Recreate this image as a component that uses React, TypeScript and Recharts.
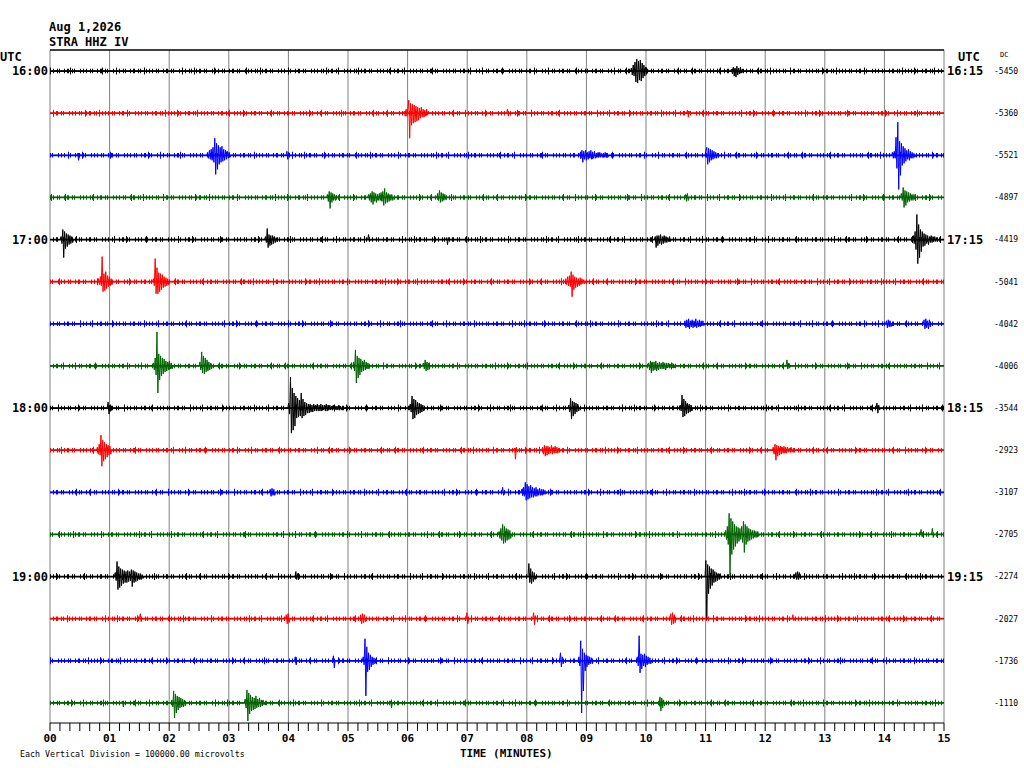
import React from 'react';
import { LineChart, Line, XAxis, YAxis, ReferenceLine } from 'recharts';

// ---------- data ----------
const MINUTES = [0, 1, 2, 3, 4, 5, 6, 7, 8, 9, 10, 11, 12, 13, 14, 15];
const MINUTE_LABELS = ['00', '01', '02', '03', '04', '05', '06', '07', '08', '09', '10', '11', '12', '13', '14', '15'];
const SUBTICKS_PER_MINUTE = 6; // one tick every 10 seconds
const LEFT_TIME_LABELS = ['16:00', '17:00', '18:00', '19:00'];
const RIGHT_TIME_LABELS = ['16:15', '17:15', '18:15', '19:15'];
const DC_VALUES = [-5450, -5360, -5521, -4897, -4419, -5041, -4042, -4006, -3544, -2923, -3107, -2705, -2274, -2027, -1736, -1110];
const TRACE_COLORS = ['#000000', '#ff0000', '#0000ff', '#006400'];

// amplitude units: one vertical division (spacing between traces) = 42 units
const SPACING = 42;
const STEP = 0.015; // minutes between successive samples inside a burst

type Burst = { t: number; a: number[] };

const TRACE_00: Burst[] = [
  { t: 9.74, a: [3, -4, 6, -5, 9, -11, 12, -12, 10, -9, 11, -10, 8, -7, 6, -5, 4, -3, 2] },
  { t: 11.42, a: [2, -3, 4, -5, 3, -6, 5, -4, 3, -3, 4, -2, 2, -2] },
];
const TRACE_01: Burst[] = [
  { t: 5.93, a: [2, -3, 4, -3, 5, 13, -25, 10, -12, 9, -10, 8, -9, 7, -8, 6, -7, 5, -5, 6, -4, 4, -4, 3, -3, 4, -2, 2] },
  { t: 7.66, a: [4, -3] },
  { t: 10.68, a: [3, -4, 2] },
];
const TRACE_02: Burst[] = [
  { t: 0.45, a: [2, -5, 2] },
  { t: 2.63, a: [3, -3, 5, -4, 6, -5, 8, -7, 17, -19, 12, -14, 10, -9, 8, -7, 9, -6, 6, -5, 5, -4, 4, -3, 3, -2] },
  { t: 3.96, a: [4, -4, 3] },
  { t: 8.88, a: [2, -3, 5, -7, 4, -4, 5, -5, 3, -4, 4, -3, 5, -4, 3, -3, 4, -3, 2, -2, 3, -2, 3, -2, 2, -2, 2, -2, 3, -2, 2, -2] },
  { t: 10.99, a: [5, 8, -9, 7, -7, 6, -5, 5, -4, 4, -3, 3, -3, 2, -2] },
  { t: 14.12, a: [3, -3, 4, -3, 18, -13, 33, -34, 14, -20, 12, -10, 9, -8, 7, -6, 5, -4, 6, -5, 4, -3, 3, -3, 2, -2] },
];
const TRACE_03: Burst[] = [
  { t: 4.64, a: [3, -4, 6, -11, 5, -5, 4, -3, 3, -3, 2] },
  { t: 5.33, a: [3, -3, 4, -5, 6, -7, 5, -4, 4, -5, 3, -3, 4, -3, 5, -4, 6, -8, 9, -6, 5, -5, 4, -4, 3, -3, 3, -3] },
  { t: 6.49, a: [4, -3, 7, -5, 5, -4, 4, -3, 3, -2] },
  { t: 10.65, a: [3, -4, 4, -3] },
  { t: 14.27, a: [4, -3, 10, -10, 7, -8, 6, -5, 5, -4, 4, -3, 3, -3, 3, -2] },
];
const TRACE_04: Burst[] = [
  { t: 0.17, a: [3, -4, 10, -18, 8, -9, 6, -7, 5, -5, 4, -4, 3, -3] },
  { t: 3.6, a: [3, -3, 11, -8, 5, -6, 4, -5, 4, -4, 3, -3, 2, -2] },
  { t: 5.33, a: [5, -2] },
  { t: 6.64, a: [2, -5, 2] },
  { t: 10.14, a: [3, -8, 4, -6, 4, -4, 5, -5, 3, -4, 4, -3, 3, -3, 2, -2, 3, -2] },
  { t: 14.47, a: [4, -4, 8, -10, 25, -24, 15, -18, 10, -12, 8, -7, 6, -6, 5, -4, 4, -5, 3, -3, 4, -3, 3, -2, 3, -2, 2, -2] },
];
const TRACE_05: Burst[] = [
  { t: 0.8, a: [3, -3, 5, -4, 25, -10, 8, -9, 10, -7, 6, -5, 5, -4, 3, -3] },
  { t: 1.72, a: [3, -4, 23, -12, 14, -12, 9, -10, 8, -8, 7, -6, 5, -5, 4, -4, 3, -3] },
  { t: 8.64, a: [3, -3, 5, -4, 6, -5, 10, -15, 7, -8, 5, -6, 4, -5, 3, -4, 4, -3, 3, -2, 2, -2] },
];
const TRACE_06: Burst[] = [
  { t: 10.64, a: [3, -4, 4, -3, 5, -5, 3, -3, 4, -4, 3, -3, 5, -4, 3, -3, 4, -3, 3, -2, 3, -2] },
  { t: 14.02, a: [3, -4, 4, -3, 3, -3] },
  { t: 14.65, a: [4, -5, 5, -4, 3, -5, 4, -3] },
];
const TRACE_07: Burst[] = [
  { t: 1.72, a: [3, -4, 8, -9, 34, -27, 12, -14, 10, -10, 8, -8, 7, -6, 5, -5, 4, -4, 5, -3, 3, -3] },
  { t: 2.5, a: [4, -4, 14, -7, 10, -8, 8, -6, 6, -5, 4, -4, 3, -3] },
  { t: 5.08, a: [4, -5, 16, -17, 10, -12, 8, -9, 7, -6, 5, -5, 6, -4, 4, -3, 3, -3] },
  { t: 6.25, a: [3, -3, 6, -5, 4, -4, 3, -2] },
  { t: 10.03, a: [3, -4, 5, -7, 4, -5, 4, -4, 5, -5, 3, -4, 4, -3, 3, -3, 4, -3, 3, -4, 3, -2, 3, -2, 2, -2, 3, -2, 2, -2] },
  { t: 12.35, a: [6, -3, 3, -2] },
];
const TRACE_08: Burst[] = [
  { t: 0.96, a: [6, -6, 3, -3] },
  { t: 3.99, a: [5, -6, 31, -25, 20, -22, 15, -18, 12, -10, 10, -9, 8, -8, 15, -10, 9, -8, 6, -7, 5, -5, 4, -5, 4, -4, 3, -4, 4, -3, 3, -3, 4, -3, 3, -3, 4, -3, 3, -2, 3, -3, 4, -3, 3, -2, 3, -2, 2, -2, 3, -2, 2, -2, 2, -2, 3, -2, 2, -2] },
  { t: 6.03, a: [4, -4, 12, -11, 9, -10, 8, -7, 6, -6, 5, -5, 4, -4, 3, -3] },
  { t: 8.69, a: [3, -4, 10, -11, 7, -8, 6, -6, 5, -4, 4, -3] },
  { t: 10.56, a: [3, -3, 13, -9, 9, -8, 7, -6, 5, -5, 4, -4, 3, -3] },
  { t: 13.86, a: [5, -5, 3, -2] },
];
const TRACE_09: Burst[] = [
  { t: 0.78, a: [3, -4, 6, -5, 15, -16, 10, -11, 8, -9, 6, -7, 5, -5, 4, -4] },
  { t: 7.78, a: [2, -9, 3, -2] },
  { t: 8.25, a: [3, -4, 5, -6, 4, -5, 4, -4, 3, -3, 5, -4, 3, -3, 4, -3, 3, -3, 2, -2] },
  { t: 12.12, a: [3, -4, 6, -10, 5, -6, 4, -5, 4, -4, 3, -3, 4, -3, 3, -3, 3, -2, 2, -2, 3, -2] },
];
const TRACE_10: Burst[] = [
  { t: 3.68, a: [3, -4, 4, -3, 3, -3] },
  { t: 7.58, a: [5, -3] },
  { t: 7.9, a: [3, -3, 5, -4, 10, -8, 8, -7, 6, -6, 7, -5, 5, -5, 4, -4, 5, -4, 3, -3, 4, -3, 3, -3, 3, -2, 2, -2] },
];
const TRACE_11: Burst[] = [
  { t: 7.52, a: [3, -4, 6, -6, 10, -9, 8, -8, 6, -6, 5, -5, 4, -4] },
  { t: 11.32, a: [4, -5, 8, -10, 21, -41, 16, -20, 13, -15, 10, -12, 8, -9, 7, -7, 6, -5, 8, -8, 13, -18, 10, -10, 8, -7, 6, -6, 5, -5, 4, -4, 4, -3, 3, -3, 3, -2] },
  { t: 14.6, a: [5, -2] },
  { t: 14.79, a: [6, -3] },
];
const TRACE_12: Burst[] = [
  { t: 1.08, a: [4, -4, 15, -13, 10, -11, 8, -9, 7, -7, 6, -6, 5, -6, 6, -5, 5, -4, 7, -10, 6, -6, 5, -5, 4, -4, 3, -3, 3, -3, 2, -2] },
  { t: 4.11, a: [5, -3, 3, -2] },
  { t: 8.02, a: [13, -6, 8, -7, 5, -5, 4, -3] },
  { t: 10.99, a: [16, -43, 12, -17, 10, -12, 8, -9, 7, -6, 5, -5, 4, -4, 3, -3, 3, -2] },
  { t: 12.5, a: [4, -3, 5, -3, 4, -2] },
];
const TRACE_13: Burst[] = [
  { t: 1.5, a: [5, -3] },
  { t: 3.95, a: [4, -5, 5, -4] },
  { t: 5.2, a: [4, -5, 5, -4, 4, -3] },
  { t: 6.98, a: [6, -5] },
  { t: 8.1, a: [6, -6, 3] },
  { t: 10.4, a: [5, -6, 6, -5, 4, -4] },
  { t: 12.45, a: [4, -2] },
];
const TRACE_14: Burst[] = [
  { t: 4.1, a: [4, -4] },
  { t: 4.74, a: [5, -7] },
  { t: 5.24, a: [4, -4, 22, -35, 14, -11, 8, -9, 6, -6, 4, -4, 3, -3] },
  { t: 8.55, a: [8, -6, 4, -3] },
  { t: 8.86, a: [4, -5, 20, -52, 12, -30, 8, -10, 6, -6, 5, -4, 4, -3, 3, -3] },
  { t: 9.84, a: [4, -5, 25, -12, 7, -8, 6, -5, 7, -6, 5, -4, 4, -3, 3, -3] },
];
const TRACE_15: Burst[] = [
  { t: 1.2, a: [2, -4] },
  { t: 2.03, a: [3, -4, 12, -15, 9, -10, 7, -7, 6, -5, 5, -4, 4, -4, 3, -3] },
  { t: 3.26, a: [4, -5, 13, -18, 10, -11, 8, -8, 6, -7, 5, -6, 7, -5, 4, -4, 5, -4, 3, -3, 3, -2] },
  { t: 5.7, a: [2, -5] },
  { t: 10.22, a: [6, -8, 5, -5, 3, -3] },
];

const TRACES: Burst[][] = [
  TRACE_00, TRACE_01, TRACE_02, TRACE_03, TRACE_04, TRACE_05, TRACE_06, TRACE_07,
  TRACE_08, TRACE_09, TRACE_10, TRACE_11, TRACE_12, TRACE_13, TRACE_14, TRACE_15,
];

// ---------- derived tables ----------
const Y_TOP = 21;
const Y_BOTTOM = -(15 * SPACING + 20);
const baseOf = (i: number) => -i * SPACING;

function buildTrace(i: number) {
  const base = baseOf(i);
  const pts: { t: number; v: number }[] = [{ t: 0, v: base }];
  const bursts = [...TRACES[i]].sort((p, q) => p.t - q.t);
  for (const b of bursts) {
    pts.push({ t: b.t, v: base });
    b.a.forEach((amp, k) => pts.push({ t: b.t + (k + 1) * STEP, v: base + amp }));
    pts.push({ t: b.t + (b.a.length + 1) * STEP, v: base });
  }
  pts.push({ t: 15, v: base });
  return pts;
}

const TRACE_DATA = TRACES.map((_, i) => buildTrace(i));
const BASE_DATA = TRACES.map((_, i) => [{ t: 0, v: baseOf(i) }, { t: 15, v: baseOf(i) }]);
const X_TICKS = Array.from({ length: 15 * SUBTICKS_PER_MINUTE + 1 }, (_, k) => k / SUBTICKS_PER_MINUTE);
const HOUR_TICKS = [0, 4, 8, 12].map(baseOf);
const ALL_TRACE_TICKS = TRACES.map((_, i) => baseOf(i));

const MONO = "'DejaVu Sans Mono', monospace";

const XTick = (props: any) => {
  const { x, y, payload } = props;
  const v = payload.value as number;
  const idx = Math.round(v);
  if (Math.abs(v - idx) > 1e-6) return <g />;
  return (
    <text x={x} y={y + 9} textAnchor="middle" fontFamily={MONO} fontWeight="bold" fontSize={11} fill="#000">
      {MINUTE_LABELS[idx]}
    </text>
  );
};

export default function App() {
  return (
    <div style={{ position: 'absolute', left: 0, top: 0, width: 1024, height: 768, background: '#fff' }}>
      <LineChart width={1024} height={768} margin={{ top: 50, right: 0, bottom: 15, left: 0 }}>
        <XAxis
          type="number"
          dataKey="t"
          domain={[0, 15]}
          ticks={X_TICKS}
          interval={0}
          tick={<XTick />}
          tickSize={8}
          tickMargin={2}
          tickLine={{ stroke: '#000' }}
          axisLine={{ stroke: '#000' }}
          height={30}
          allowDataOverflow
        />
        <YAxis
          yAxisId="left"
          type="number"
          domain={[Y_BOTTOM, Y_TOP]}
          ticks={HOUR_TICKS}
          interval={0}
          width={50}
          axisLine={false}
          tickLine={false}
          tickSize={0}
          tickMargin={2}
          tickFormatter={(v: number) => LEFT_TIME_LABELS[Math.round(-v / (4 * SPACING))]}
          tick={{ fontFamily: MONO, fontWeight: 'bold', fontSize: 12, fill: '#000' }}
          allowDataOverflow
        />
        <YAxis
          yAxisId="r1"
          orientation="right"
          type="number"
          domain={[Y_BOTTOM, Y_TOP]}
          ticks={HOUR_TICKS}
          interval={0}
          width={48}
          axisLine={false}
          tickLine={false}
          tickSize={0}
          tickMargin={3}
          tickFormatter={(v: number) => RIGHT_TIME_LABELS[Math.round(-v / (4 * SPACING))]}
          tick={{ fontFamily: MONO, fontWeight: 'bold', fontSize: 12, fill: '#000' }}
          allowDataOverflow
        />
        <YAxis
          yAxisId="r2"
          orientation="right"
          type="number"
          domain={[Y_BOTTOM, Y_TOP]}
          ticks={ALL_TRACE_TICKS}
          interval={0}
          width={32}
          axisLine={false}
          tickLine={false}
          tickSize={0}
          tickMargin={2}
          tickFormatter={(v: number) => String(DC_VALUES[Math.round(-v / SPACING)])}
          tick={{ fontFamily: MONO, fontSize: 8, fill: '#000' }}
          allowDataOverflow
        />
        {MINUTES.map((m) => (
          <ReferenceLine key={'g' + m} yAxisId="left" x={m} stroke="#808080" strokeWidth={1} ifOverflow="extendDomain" />
        ))}
        <ReferenceLine yAxisId="left" y={Y_TOP} stroke="#000" strokeWidth={1.5} />
        {BASE_DATA.map((d, i) => (
          <Line
            key={'b' + i}
            yAxisId="r1"
            data={d}
            dataKey="v"
            stroke={TRACE_COLORS[i % 4]}
            strokeWidth={1.8}
            dot={false}
            activeDot={false}
            isAnimationActive={false}
          />
        ))}
        {BASE_DATA.map((d, i) => (
          <Line
            key={'n' + i}
            yAxisId="r2"
            data={d}
            dataKey="v"
            stroke={TRACE_COLORS[i % 4]}
            strokeWidth={4.5}
            strokeDasharray="1 2 1 3 1 1 1 4 1 2 2 3 1 1 1 5 1 2"
            strokeDashoffset={i * 11}
            dot={false}
            activeDot={false}
            isAnimationActive={false}
          />
        ))}
        {BASE_DATA.map((d, i) => (
          <Line
            key={'s' + i}
            yAxisId="r2"
            data={d}
            dataKey="v"
            stroke={TRACE_COLORS[i % 4]}
            strokeWidth={7}
            strokeDasharray="1 19 1 31 1 13 1 27 1 37 1 11"
            strokeDashoffset={i * 17}
            dot={false}
            activeDot={false}
            isAnimationActive={false}
          />
        ))}
        {TRACE_DATA.map((d, i) => (
          <Line
            key={'t' + i}
            yAxisId="left"
            data={d}
            dataKey="v"
            stroke={TRACE_COLORS[i % 4]}
            strokeWidth={1}
            dot={false}
            activeDot={false}
            isAnimationActive={false}
          />
        ))}
      </LineChart>
      <svg width={1024} height={768} style={{ position: 'absolute', left: 0, top: 0, pointerEvents: 'none' }}>
        <text x={49} y={30.7} fontFamily={MONO} fontWeight="bold" fontSize={12}>Aug 1,2026</text>
        <text x={49} y={45.7} fontFamily={MONO} fontWeight="bold" fontSize={12}>STRA HHZ IV</text>
        <text x={0} y={60.7} fontFamily={MONO} fontWeight="bold" fontSize={12}>UTC</text>
        <text x={958} y={60.7} fontFamily={MONO} fontWeight="bold" fontSize={12}>UTC</text>
        <text x={1000} y={56.7} fontFamily={MONO} fontSize={7}>DC</text>
        <text x={460} y={756.5} fontFamily={MONO} fontWeight="bold" fontSize={11}>TIME (MINUTES)</text>
        <text x={20} y={756.7} fontFamily={MONO} fontSize={8.3}>Each Vertical Division = 100000.00 microvolts</text>
      </svg>
    </div>
  );
}
